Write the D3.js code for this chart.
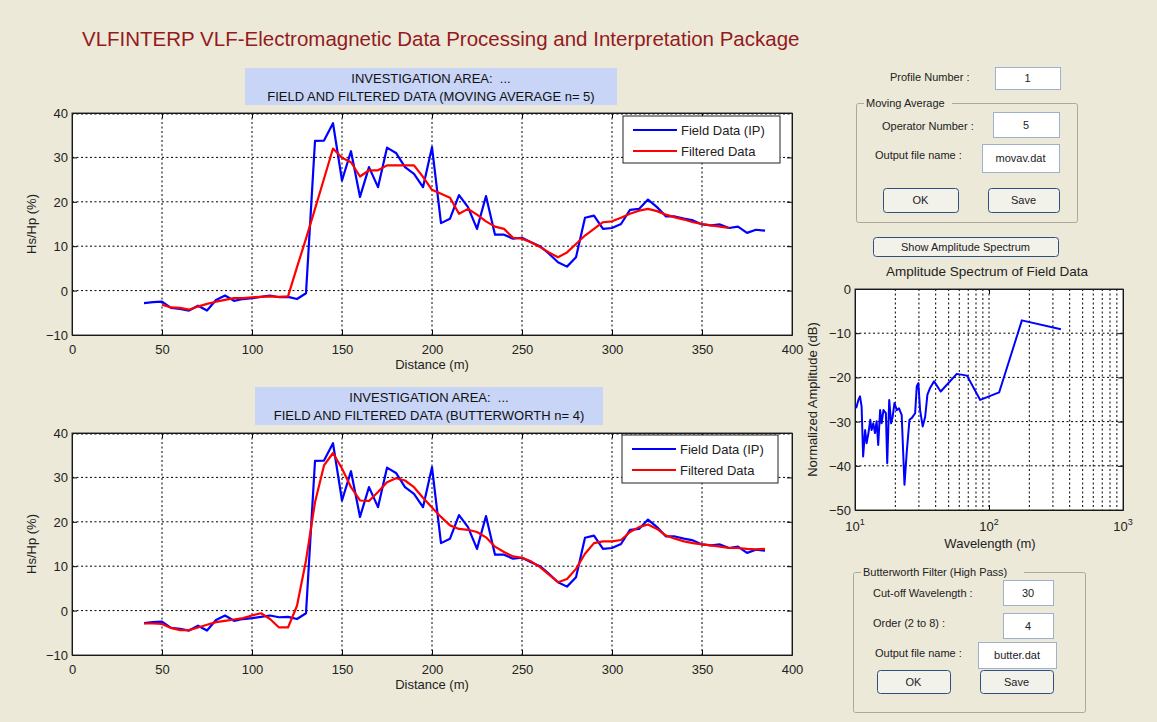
<!DOCTYPE html>
<html><head><meta charset="utf-8">
<script src="https://cdn.jsdelivr.net/npm/d3@7"></script>
<style>
body{margin:0;background:#ece9d8;}
svg{display:block;font-family:"Liberation Sans",Arial,sans-serif;}
</style>
</head><body>
<svg id="c" width="1157" height="722"></svg>
<script>
// ---------------- DATA ----------------
const distance = [40,45,50,55,60,65,70,75,80,85,90,95,100,105,110,115,120,125,130,135,140,145,150,155,160,165,170,175,180,185,190,195,200,205,210,215,220,225,230,235,240,245,250,255,260,265,270,275,280,285,290,295,300,305,310,315,320,325,330,335,340,345,350,355,360,365,370,375,380,385];
const fieldData = [-2.8,-2.6,-2.5,-3.9,-4.1,-4.5,-3.4,-4.5,-2.1,-1.1,-2.3,-1.9,-1.7,-1.4,-1.1,-1.5,-1.4,-1.9,-0.6,33.7,33.8,37.7,24.8,31.4,21.1,27.8,23.3,32.2,31.0,27.8,26.3,23.3,32.3,15.2,16.2,21.5,18.8,13.9,21.3,12.6,12.6,11.7,11.9,10.9,10.0,8.3,6.4,5.4,7.5,16.4,16.9,13.9,14.1,15.0,18.2,18.4,20.5,18.8,16.7,16.7,16.2,15.8,14.9,14.7,14.9,14.1,14.4,13.0,13.7,13.5];
const movAvgDistance = [50,55,60,65,70,75,80,85,90,95,100,105,110,115,120,125,130,135,140,145,150,155,160,165,170,175,180,185,190,195,200,205,210,215,220,225,230,235,240,245,250,255,260,265,270,275,280,285,290,295,300,305,310,315,320,325,330,335,340,345,350,355,360,365];
const movAvgData = [-3.2,-3.8,-3.9,-4.3,-3.6,-3.0,-2.5,-2.1,-1.7,-1.7,-1.5,-1.4,-1.3,-1.4,-1.3,5.3,11.7,18.4,25.2,32.0,29.9,28.9,25.7,27.1,27.1,28.2,28.2,28.2,28.2,25.6,22.7,21.8,20.9,17.3,18.4,17.1,15.6,14.4,13.9,11.9,11.7,10.9,9.8,8.6,7.5,8.6,10.5,12.4,13.9,15.4,15.6,16.4,17.3,18.0,18.4,17.9,17.1,16.5,16.0,15.4,15.0,14.7,14.4,14.1];
const butterData = [-2.9,-2.9,-3.0,-3.9,-4.4,-4.4,-3.8,-3.2,-2.6,-2.3,-2.0,-1.7,-1.1,-0.6,-1.9,-3.8,-3.8,1.1,11.3,24.4,32.7,35.5,32.0,27.8,24.8,24.7,26.7,28.9,29.8,29.3,27.8,25.4,23.2,21.1,19.2,18.4,18.2,17.7,16.5,14.4,13.2,12.2,11.9,11.1,9.8,8.1,6.4,7.1,9.4,12.8,15.2,15.6,15.6,15.9,17.7,18.8,19.4,18.4,16.9,16.2,15.6,15.2,14.9,14.7,14.4,14.1,14.1,13.9,13.8,13.9];
const specWavelength = [10.2,10.6,10.9,11.2,11.5,11.9,12.2,12.6,13.0,13.3,13.7,14.1,14.5,14.9,15.4,15.8,16.3,17.0,17.4,18.0,18.6,19.1,19.7,20.5,21.3,22.3,23.4,24.3,25.5,26.5,28.1,28.9,29.7,30.6,32.0,33.4,34.7,36.3,38.9,43.6,57.5,68.5,86,119,176,344];
const specAmplitude = [-27,-25.1,-24.3,-26.6,-37.9,-31.9,-34.9,-32.6,-29.6,-31.9,-30.4,-32.6,-29.9,-35.3,-27.4,-30.4,-27.4,-28.1,-39.4,-25.1,-30.4,-28.9,-25.8,-27.4,-27,-28.5,-44.3,-37.1,-29.6,-29.2,-28.1,-22,-21.3,-27.4,-31.1,-28.9,-23.9,-22.4,-20.9,-23.2,-19.2,-19.6,-25.1,-23.4,-7.1,-9.1];
const xTicks = [0,50,100,150,200,250,300,350,400];
const yTicks = [-10,0,10,20,30,40];
const specXTicks = [10,100,1000];
const specYTicks = [0,-10,-20,-30,-40,-50];
const specMinorX = [20,30,40,50,60,70,80,90,100,200,300,400,500,600,700,800,900];
const legendLabels = ["Field Data (IP)","Filtered Data"];
const seriesColors = ["#0000ff","#ff0000"];

// ---------------- DRAW ----------------
const svg = d3.select("#c");
svg.append("rect").attr("width",1157).attr("height",722).attr("fill","#ece9d8");
const DASH = "2,2.5";

svg.append("text").attr("x",82).attr("y",46).attr("font-size",20.5).attr("fill","#941a1d")
  .text("VLFINTERP VLF-Electromagnetic Data Processing and Interpretation Package");

function profilePlot(cfg){
  const L=72,R=792,T=cfg.top,B=cfg.top+222;
  const x=d3.scaleLinear().domain([0,400]).range([L,R]);
  const y=d3.scaleLinear().domain([-10,40]).range([B,T]);
  svg.append("rect").attr("x",cfg.box[0]).attr("y",cfg.box[1]).attr("width",cfg.box[2]).attr("height",cfg.box[3]).attr("fill","#c8d5f6");
  const cx=cfg.box[0]+cfg.box[2]/2;
  cfg.titles.forEach((t,i)=>svg.append("text").attr("x",cx).attr("y",cfg.box[1]+15+i*17.5)
     .attr("text-anchor","middle").attr("font-size",13).attr("fill","#111").attr("xml:space","preserve").text(t));
  const g=svg.append("g");
  g.append("rect").attr("x",L).attr("y",T).attr("width",R-L).attr("height",B-T).attr("fill","#fff");
  g.selectAll(".gx").data(xTicks.slice(1,-1)).enter().append("line")
    .attr("x1",d=>x(d)).attr("x2",d=>x(d)).attr("y1",T).attr("y2",B)
    .attr("stroke","#000").attr("stroke-width",1).attr("stroke-dasharray",DASH);
  g.selectAll(".gy").data(yTicks.slice(1,-1)).enter().append("line")
    .attr("y1",d=>y(d)).attr("y2",d=>y(d)).attr("x1",L).attr("x2",R)
    .attr("stroke","#000").attr("stroke-width",1).attr("stroke-dasharray",DASH);
  g.append("line").attr("x1",L).attr("x2",R).attr("y1",T+1).attr("y2",T+1).attr("stroke","#000").attr("stroke-dasharray",DASH);
  const ax=g.append("g").attr("transform",`translate(0,${B})`)
    .call(d3.axisBottom(x).tickValues(xTicks).tickSizeInner(-5).tickSizeOuter(0).tickPadding(7));
  const ay=g.append("g").attr("transform",`translate(${L},0)`)
    .call(d3.axisLeft(y).tickValues(yTicks).tickSizeInner(-5).tickSizeOuter(0).tickPadding(4));
  [ax,ay].forEach(a=>{a.selectAll("text").attr("font-size",13).attr("fill","#222").attr("font-family","Liberation Sans, Arial");
    a.select(".domain").attr("stroke","#000");});
  ax.selectAll(".tick text").attr("dy","0.9em");
  ay.selectAll(".tick text").attr("dy","0.35em");
  g.append("g").attr("transform",`translate(0,${T})`).call(d3.axisTop(x).tickValues(xTicks).tickSizeInner(-5).tickSizeOuter(0).tickFormat(""));
  g.append("g").attr("transform",`translate(${R},0)`).call(d3.axisRight(y).tickValues(yTicks).tickSizeInner(-5).tickSizeOuter(0).tickFormat(""));
  g.append("rect").attr("x",L).attr("y",T).attr("width",R-L).attr("height",B-T).attr("fill","none").attr("stroke","#333");
  const line=d3.line().x(d=>x(d[0])).y(d=>y(d[1]));
  g.append("path").datum(distance.map((d,i)=>[d,fieldData[i]])).attr("d",line)
    .attr("fill","none").attr("stroke",seriesColors[0]).attr("stroke-width",2.2).attr("stroke-linejoin","round");
  g.append("path").datum(cfg.fx.map((d,i)=>[d,cfg.fy[i]])).attr("d",line)
    .attr("fill","none").attr("stroke",seriesColors[1]).attr("stroke-width",2.2).attr("stroke-linejoin","round");
  const lg=cfg.legend;
  g.append("rect").attr("x",lg[0]).attr("y",lg[1]).attr("width",lg[2]).attr("height",lg[3]).attr("fill","#fff").attr("stroke","#222");
  legendLabels.forEach((t,i)=>{
    const yy=lg[1]+14+i*21;
    g.append("line").attr("x1",lg[0]+10).attr("x2",lg[0]+54).attr("y1",yy).attr("y2",yy).attr("stroke",seriesColors[i]).attr("stroke-width",2.2);
    g.append("text").attr("x",lg[0]+58).attr("y",yy+4.5).attr("font-size",13).attr("fill","#222").text(t);
  });
  svg.append("text").attr("transform",`translate(36,${(T+B)/2}) rotate(-90)`).attr("text-anchor","middle")
    .attr("font-size",13).attr("fill","#222").text("Hs/Hp (%)");
  svg.append("text").attr("x",432).attr("y",B+34).attr("text-anchor","middle")
    .attr("font-size",13).attr("fill","#222").text("Distance (m)");
}

profilePlot({top:113,box:[245,68,372,37],titles:["INVESTIGATION AREA:  ...","FIELD AND FILTERED DATA (MOVING AVERAGE n= 5)"],
  fx:movAvgDistance,fy:movAvgData,legend:[623,116,157,47]});
profilePlot({top:433,box:[255,387,348,38],titles:["INVESTIGATION AREA:  ...","FIELD AND FILTERED DATA (BUTTERWORTH n= 4)"],
  fx:distance,fy:butterData,legend:[622,435,156,48]});

// -------- spectrum ---------
(function(){
  const L=855,R=1123,T=289,B=510;
  const x=d3.scaleLog().domain([10,1000]).range([L,R]);
  const y=d3.scaleLinear().domain([-50,0]).range([B,T]);
  const g=svg.append("g");
  g.append("rect").attr("x",L).attr("y",T).attr("width",R-L).attr("height",B-T).attr("fill","#fff");
  g.selectAll(".mx").data(specMinorX).enter().append("line")
    .attr("x1",d=>x(d)).attr("x2",d=>x(d)).attr("y1",T).attr("y2",B)
    .attr("stroke","#000").attr("stroke-dasharray",DASH);
  g.selectAll(".my").data(specYTicks.slice(1,-1)).enter().append("line")
    .attr("y1",d=>y(d)).attr("y2",d=>y(d)).attr("x1",L).attr("x2",R)
    .attr("stroke","#000").attr("stroke-dasharray",DASH);
  const ay=g.append("g").attr("transform",`translate(${L},0)`)
    .call(d3.axisLeft(y).tickValues(specYTicks).tickSizeInner(-5).tickSizeOuter(0).tickPadding(4));
  ay.selectAll("text").attr("font-size",13).attr("fill","#222").attr("font-family","Liberation Sans, Arial").attr("dy","0.35em");
  g.append("g").attr("transform",`translate(${R},0)`).call(d3.axisRight(y).tickValues(specYTicks).tickSizeInner(-5).tickSizeOuter(0).tickFormat(""));
  g.append("g").attr("transform",`translate(0,${B})`).call(d3.axisBottom(x).tickValues(specXTicks).tickSizeInner(-5).tickSizeOuter(0).tickFormat(""));
  g.append("g").attr("transform",`translate(0,${T})`).call(d3.axisTop(x).tickValues(specXTicks).tickSizeInner(-5).tickSizeOuter(0).tickFormat(""));
  specXTicks.forEach(v=>{
    const t=g.append("text").attr("x",x(v)).attr("y",B+21).attr("text-anchor","middle").attr("font-size",13).attr("fill","#222");
    t.append("tspan").text("10");
    t.append("tspan").attr("dy",-6).attr("font-size",9).text(String(Math.round(Math.log10(v))));
  });
  g.append("rect").attr("x",L).attr("y",T).attr("width",R-L).attr("height",B-T).attr("fill","none").attr("stroke","#333");
  const line=d3.line().x((d,i)=>x(d)).y((d,i)=>y(specAmplitude[i]));
  g.append("path").datum(specWavelength).attr("d",line).attr("fill","none").attr("stroke","#0000ff").attr("stroke-width",2).attr("stroke-linejoin","round");
  svg.append("text").attr("x",987).attr("y",276).attr("text-anchor","middle").attr("font-size",13.5).attr("fill","#222").text("Amplitude Spectrum of Field Data");
  svg.append("text").attr("x",990).attr("y",548).attr("text-anchor","middle").attr("font-size",13).attr("fill","#222").text("Wavelength (m)");
  svg.append("text").attr("transform",`translate(817,${(T+B)/2}) rotate(-90)`).attr("text-anchor","middle").attr("font-size",13).attr("fill","#222").text("Normalized Amplitude (dB)");
})();

// -------- GUI controls ---------
function label(x,y,t){svg.append("text").attr("x",x).attr("y",y).attr("font-size",11).attr("fill","#222").text(t);}
function input(x,y,w,h,t){
  svg.append("rect").attr("x",x+0.5).attr("y",y+0.5).attr("width",w).attr("height",h).attr("fill","#fff").attr("stroke","#9db0cf");
  svg.append("text").attr("x",x+w/2).attr("y",y+h/2+4).attr("text-anchor","middle").attr("font-size",11).attr("fill","#222").text(t);
}
function button(x,y,w,h,t){
  svg.append("rect").attr("x",x+0.5).attr("y",y+0.5).attr("width",w).attr("height",h).attr("rx",3).attr("fill","#f2f1ea").attr("stroke","#2f4f7f");
  svg.append("text").attr("x",x+w/2).attr("y",y+h/2+4).attr("text-anchor","middle").attr("font-size",11).attr("fill","#222").text(t);
}
function group(x,y,w,h,t,tw){
  svg.append("rect").attr("x",x+0.5).attr("y",y+0.5).attr("width",w).attr("height",h).attr("rx",2).attr("fill","none").attr("stroke","#a9a99c");
  svg.append("rect").attr("x",x+8).attr("y",y-6).attr("width",tw).attr("height",12).attr("fill","#ece9d8");
  svg.append("text").attr("x",x+10).attr("y",y+4).attr("font-size",11).attr("fill","#222").text(t);
}
label(890,81,"Profile Number :");
input(995,67,65,22,"1");
group(856,103,221,119,"Moving Average",88);
label(882,130,"Operator Number :");
input(993,112,66,25,"5");
label(875,159,"Output file name :");
input(982,144,77,28,"movav.dat");
button(883,188,75,24,"OK");
button(988,188,71,24,"Save");
button(873,237,185,19,"Show Amplitude Spectrum");
group(853,572,232,140,"Butterworth Filter (High Pass)",163);
label(873,597,"Cut-off Wavelength :");
input(1003,580,50,25,"30");
label(873,627,"Order (2 to 8) :");
input(1003,613,50,25,"4");
label(875,657,"Output file name :");
input(978,642,78,26,"butter.dat");
button(877,670,73,23,"OK");
button(980,670,73,23,"Save");
</script>
</body></html>
